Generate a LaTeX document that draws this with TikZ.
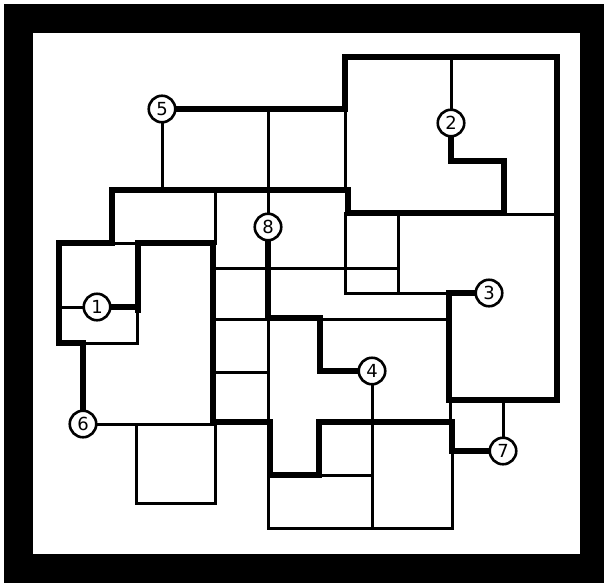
\documentclass[tikz,border=0pt]{standalone}
\usepackage{fontspec}
\setmainfont{DejaVu Sans}
\begin{document}
\begin{tikzpicture}[x=1pt,y=-1pt,
  thickwall/.style={line width=6pt,line cap=rect,line join=miter},
  thinwall/.style={line width=3pt,line cap=rect,line join=miter},
  num/.style={circle,draw,line width=2.6pt,fill=white,minimum size=26.5pt,inner sep=0pt,font=\fontsize{18}{18}\selectfont}]
\useasboundingbox (0,0) rectangle (604,584);
\fill[black] (4,4) rectangle (604,583);
\fill[white] (33,33) rectangle (580,554);
% numbered nodes
\node[num] (n1) at (97,307) {1};
\node[num] (n2) at (451,123) {2};
\node[num] (n3) at (489,293) {3};
\node[num] (n4) at (372,371) {4};
\node[num] (n5) at (162,109) {5};
\node[num] (n6) at (83,424) {6};
\node[num] (n7) at (503,451) {7};
\node[num] (n8) at (268,227) {8};
% free-end coordinates
\coordinate (a1) at (345,109);
\coordinate (a2) at (345,57);
\coordinate (a3) at (557,57);
\coordinate (a4) at (557,400);
\coordinate (a5) at (449,400);
\coordinate (a6) at (449,293);
\coordinate (b1) at (112,190);
\coordinate (b2) at (348,190);
\coordinate (b3) at (348,213);
\coordinate (b4) at (504,213);
\coordinate (b5) at (504,161);
\coordinate (b6) at (451,161);
\coordinate (c1) at (112,243);
\coordinate (c2) at (59,243);
\coordinate (c3) at (59,343);
\coordinate (c4) at (83,343);
\coordinate (d1) at (138,310);
\coordinate (d2) at (138,243);
\coordinate (d3) at (213,243);
\coordinate (d4) at (213,422);
\coordinate (d5) at (270,422);
\coordinate (d6) at (270,475);
\coordinate (d7) at (319,475);
\coordinate (d8) at (319,422);
\coordinate (d9) at (452,422);
\coordinate (d10) at (452,451);
\coordinate (e1) at (138,307);
\coordinate (e2) at (59,307);
\coordinate (f1) at (268,318);
\coordinate (f2) at (320,318);
\coordinate (f3) at (320,371);
% thick walls
\draw[thickwall] (n5) -- (a1) -- (a2) -- (a3) -- (a4) -- (a5) -- (a6) -- (n3);
\draw[thickwall] (b1) -- (b2) -- (b3) -- (b4) -- (b5) -- (b6) -- (n2);
\draw[thickwall] (b1) -- (c1) -- (c2) -- (c3) -- (c4) -- (n6);
\draw[thickwall] (d1) -- (d2) -- (d3) -- (d4) -- (d5) -- (d6) -- (d7) -- (d8) -- (d9) -- (d10) -- (n7);
\draw[thickwall] (e1) -- (n1);
\draw[thickwall] (n8) -- (f1) -- (f2) -- (f3) -- (n4);
% thin walls
\draw[thinwall] (a1) -- (345,190);
\draw[thinwall] (451,57) -- (n2);
\draw[thinwall] (504,214) -- (557,214);
\draw[thinwall] (c1) -- (d2);
\draw[thinwall] (e2) -- (n1);
\draw[thinwall] (c4) -- (137,343) -- (137,310);
\draw[thinwall] (215,190) -- (215,243);
\draw[thinwall] (n5) -- (162,190);
\draw[thinwall] (268,109) -- (n8);
\draw[thinwall] (n4) -- (372,528);
\draw[thinwall] (213,268) -- (398,268);
\draw[thinwall] (213,319) -- (449,319);
\draw[thinwall] (213,372) -- (268,372);
\draw[thinwall] (268,318) -- (268,422);
\draw[thinwall] (345,213) -- (345,293) -- (a6);
\draw[thinwall] (398,213) -- (398,293);
\draw[thinwall] (450,400) -- (450,422);
\draw[thinwall] (503,400) -- (n7);
\draw[thinwall] (d10) -- (452,528) -- (268,528) -- (268,475);
\draw[thinwall] (d7) -- (372,475);
\draw[thinwall] (n6) -- (215,424) -- (215,503) -- (136,503) -- (136,424);
\end{tikzpicture}
\end{document}
